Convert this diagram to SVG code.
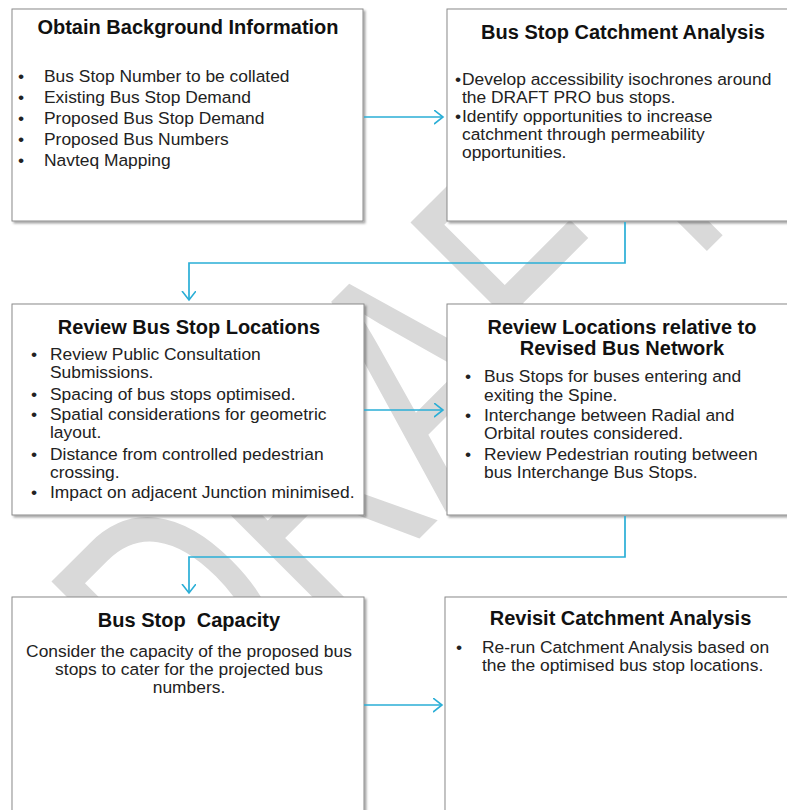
<svg xmlns="http://www.w3.org/2000/svg" width="787" height="810" viewBox="0 0 787 810">
  <defs>
    <filter id="shadow" x="-5%" y="-5%" width="115%" height="115%">
      <feDropShadow dx="2" dy="2" stdDeviation="1.2" flood-color="#000" flood-opacity="0.35"/>
    </filter>
    <marker id="arrow" markerUnits="userSpaceOnUse" markerWidth="12" markerHeight="16" refX="9" refY="7" orient="auto">
      <path d="M0,0 L9,7 L0,14" fill="none" stroke="#2aaed6" stroke-width="1.6"/>
    </marker>
    <style>
      .box { fill: #fff; stroke: #8a8a8a; stroke-width: 1; filter: url(#shadow); }
      .title { font-family: "Liberation Sans", Arial, sans-serif; font-weight: bold; font-size: 20px; fill: #111; text-anchor: middle; }
      .body { font-family: "Liberation Sans", Arial, sans-serif; font-size: 17.4px; fill: #222; }
      .centre { text-anchor: middle; }
      .link { fill: none; stroke: #2aaed6; stroke-width: 1.7; marker-end: url(#arrow); }
      .mark { font-family: "Liberation Sans", Arial, sans-serif; font-size: 334px; fill: #d9d9d9; }
    </style>
  </defs>

  <rect width="787" height="810" fill="#fff"/>

  <!-- DRAFT watermark, sitting behind the boxes -->
  <g id="watermark">
    <text class="mark" transform="translate(200,758) rotate(-45) scale(0.72,1)">DRAFT</text>
  </g>

  <!-- Step 1 -->
  <g id="obtain-background">
    <rect class="box" x="12" y="9" width="351" height="212"/>
    <text class="title" x="188" y="34">Obtain Background Information</text>
    <g class="body">
      <text x="18" y="82">•</text><text x="44" y="82">Bus Stop Number to be collated</text>
      <text x="18" y="103">•</text><text x="44" y="103">Existing Bus Stop Demand</text>
      <text x="18" y="124">•</text><text x="44" y="124">Proposed Bus Stop Demand</text>
      <text x="18" y="144.5">•</text><text x="44" y="144.5">Proposed Bus Numbers</text>
      <text x="18" y="165.5">•</text><text x="44" y="165.5">Navteq Mapping</text>
    </g>
  </g>

  <!-- Step 2 -->
  <g id="catchment-analysis">
    <rect class="box" x="447" y="9" width="360" height="212"/>
    <text class="title" x="623" y="39">Bus Stop Catchment Analysis</text>
    <g class="body">
      <text x="455" y="85">•</text><text x="462" y="85">Develop accessibility isochrones around</text>
      <text x="462" y="103">the DRAFT PRO bus stops.</text>
      <text x="455" y="121.5">•</text><text x="462" y="121.5">Identify opportunities to increase</text>
      <text x="462" y="140">catchment through permeability</text>
      <text x="462" y="158">opportunities.</text>
    </g>
  </g>

  <!-- Step 3 -->
  <g id="review-locations">
    <rect class="box" x="12" y="304" width="352" height="211"/>
    <text class="title" x="189" y="334">Review Bus Stop Locations</text>
    <g class="body">
      <text x="31" y="360">•</text><text x="50" y="360">Review Public Consultation</text>
      <text x="50" y="378">Submissions.</text>
      <text x="31" y="399.5">•</text><text x="50" y="399.5">Spacing of bus stops optimised.</text>
      <text x="31" y="419.5">•</text><text x="50" y="419.5">Spatial considerations for geometric</text>
      <text x="50" y="437.5">layout.</text>
      <text x="31" y="459.5">•</text><text x="50" y="459.5">Distance from controlled pedestrian</text>
      <text x="50" y="477.5">crossing.</text>
      <text x="31" y="498">•</text><text x="50" y="498">Impact on adjacent Junction minimised.</text>
    </g>
  </g>

  <!-- Step 4 -->
  <g id="review-network">
    <rect class="box" x="447" y="304" width="360" height="211"/>
    <text class="title" x="622" y="334">Review Locations relative to</text>
    <text class="title" x="622" y="355">Revised Bus Network</text>
    <g class="body">
      <text x="465" y="382">•</text><text x="484" y="382">Bus Stops for buses entering and</text>
      <text x="484" y="401">exiting the Spine.</text>
      <text x="465" y="420.5">•</text><text x="484" y="420.5">Interchange between Radial and</text>
      <text x="484" y="438.5">Orbital routes considered.</text>
      <text x="465" y="460">•</text><text x="484" y="460">Review Pedestrian routing between</text>
      <text x="484" y="478">bus Interchange Bus Stops.</text>
    </g>
  </g>

  <!-- Step 5 -->
  <g id="stop-capacity">
    <rect class="box" x="12" y="597" width="352" height="230"/>
    <text class="title" x="189" y="627" xml:space="preserve">Bus Stop  Capacity</text>
    <g class="body centre">
      <text x="189" y="657">Consider the capacity of the proposed bus</text>
      <text x="189" y="675">stops to cater for the projected bus</text>
      <text x="189" y="692.5">numbers.</text>
    </g>
  </g>

  <!-- Step 6 -->
  <g id="revisit-catchment">
    <rect class="box" x="445" y="597" width="362" height="230"/>
    <text class="title" x="620.5" y="625">Revisit Catchment Analysis</text>
    <g class="body">
      <text x="456" y="652.5">•</text><text x="482" y="652.5">Re-run Catchment Analysis based on</text>
      <text x="482" y="670.5">the the optimised bus stop locations.</text>
    </g>
  </g>

  <!-- Connectors -->
  <g id="connectors">
    <path class="link" d="M364,117 H443"/>
    <path class="link" d="M625,222 V263 H189 V300"/>
    <path class="link" d="M364,410 H443"/>
    <path class="link" d="M625,516 V557 H189 V593"/>
    <path class="link" d="M364,705 H442"/>
  </g>
</svg>
